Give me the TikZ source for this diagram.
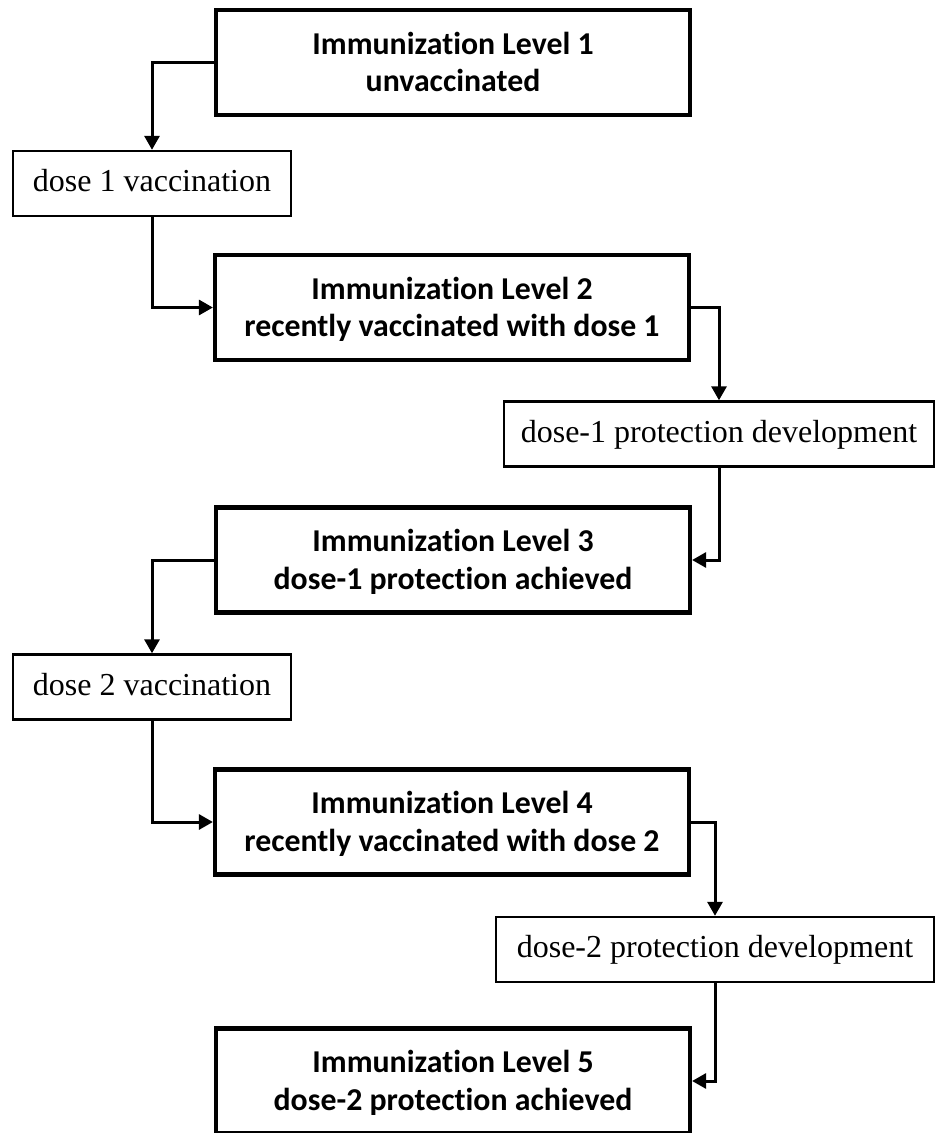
\documentclass[tikz,border=0pt]{standalone}
\usepackage{fontspec}
\setmainfont{Liberation Serif}
\newfontfamily\carlito{Carlito}[Ligatures=NoCommon]
\usetikzlibrary{arrows.meta}
\newcommand\lvline[1]{\rule[-8.4bp]{0pt}{37.8bp}#1}
\tikzset{
  levelbox/.style={draw, line width=4.2bp, minimum width=474bp, minimum height=105bp,
    inner sep=0pt, align=center,
    font=\carlito\bfseries\fontsize{31.8bp}{37.8bp}\selectfont},
  dosebox/.style={draw, line width=2.4bp, inner sep=0pt, minimum height=65bp,
    text height=22bp, text depth=5.6bp,
    font=\fontsize{32bp}{38bp}\selectfont},
  conn/.style={line width=3bp, -{Triangle[length=14bp,width=15bp]}},
}
\begin{document}
\begin{tikzpicture}[x=1bp,y=-1bp]
\useasboundingbox (0,0) rectangle (935,1133);
\node[levelbox] (L1) at (453,62.5) {\lvline{Immunization Level 1}\\\lvline{unvaccinated}};
\node[dosebox, minimum width=277.6bp] (D1) at (152,183.5) {dose 1 vaccination};
\node[levelbox] (L2) at (452,307.5) {\lvline{Immunization Level 2}\\\lvline{recently vaccinated with dose 1}};
\node[dosebox, minimum width=429.6bp] (P1) at (719,434) {dose-1 protection development};
\node[levelbox] (L3) at (453,560) {\lvline{Immunization Level 3}\\\lvline{dose-1 protection achieved}};
\node[dosebox, minimum width=277.6bp] (D2) at (152,687) {dose 2 vaccination};
\node[levelbox] (L4) at (452,822) {\lvline{Immunization Level 4}\\\lvline{recently vaccinated with dose 2}};
\node[dosebox, minimum width=437.6bp] (P2) at (715,949.5) {dose-2 protection development};
\node[levelbox] (L5) at (453,1081) {\lvline{Immunization Level 5}\\\lvline{dose-2 protection achieved}};
\draw[conn] (L1.west) -| (D1.north);
\draw[conn] (D1.south) |- (L2.west);
\draw[conn] (L2.east) -| (P1.north);
\draw[conn] (P1.south) |- (L3.east);
\draw[conn] (L3.west) -| (D2.north);
\draw[conn] (D2.south) |- (L4.west);
\draw[conn] (L4.east) -| (P2.north);
\draw[conn] (P2.south) |- (L5.east);
\end{tikzpicture}
\end{document}
